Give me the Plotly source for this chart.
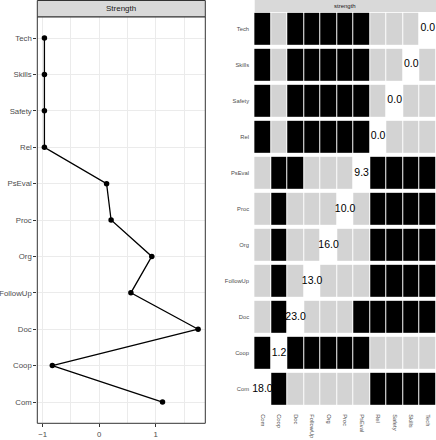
import plotly.graph_objects as go

# ---------------- data ----------------
nodes = ["Com", "Coop", "Doc", "FollowUp", "Org", "Proc", "PsEval", "Rel", "Safety", "Skills", "Tech"]
# left panel: standardized strength, order as drawn top->bottom
line_nodes = ["Tech", "Skills", "Safety", "Rel", "PsEval", "Proc", "Org", "FollowUp", "Doc", "Coop", "Com"]
line_values = [-0.97, -0.97, -0.97, -0.97, 0.13, 0.21, 0.93, 0.56, 1.75, -0.83, 1.12]

# right panel: raw strength on the diagonal
diag_values = [18.0, 1.2, 23.0, 13.0, 16.0, 10.0, 9.3, 0.0, 0.0, 0.0, 0.0]
# difference matrix: 1 = significant (black), 0 = not (grey), None = diagonal
sig = [
    [None, 1, 0, 0, 0, 0, 0, 1, 1, 1, 1],   # Com
    [1, None, 1, 1, 1, 1, 1, 0, 0, 0, 0],   # Coop
    [0, 1, None, 0, 0, 0, 1, 1, 1, 1, 1],   # Doc
    [0, 1, 0, None, 0, 0, 0, 1, 1, 1, 1],   # FollowUp
    [0, 1, 0, 0, None, 0, 0, 1, 1, 1, 1],   # Org
    [0, 1, 0, 0, 0, None, 0, 1, 1, 1, 1],   # Proc
    [0, 1, 1, 0, 0, 0, None, 1, 1, 1, 1],   # PsEval
    [1, 0, 1, 1, 1, 1, 1, None, 0, 0, 0],   # Rel
    [1, 0, 1, 1, 1, 1, 1, 0, None, 0, 0],   # Safety
    [1, 0, 1, 1, 1, 1, 1, 0, 0, None, 0],   # Skills
    [1, 0, 1, 1, 1, 1, 1, 0, 0, 0, None],   # Tech
]
x_ticks = [-1, 0, 1]

# ---------------- layout helpers ----------------
W, H = 436, 440
FONT = "Liberation Sans, Arial, Helvetica, sans-serif"

def px_x(p):
    return p / W

def px_y(p):
    return 1 - p / H

# left panel box (pixels)
L_x0, L_x1 = 37.3, 205.3
L_y0, L_y1 = 16.8, 423.3
# right panel box
R_x0, R_x1 = 254.2, 436.0
R_y0, R_y1 = 10.8, 407.0

fig = go.Figure()

fig.add_trace(go.Scatter(
    x=line_values, y=line_nodes, mode="lines+markers",
    line=dict(color="black", width=1.3),
    marker=dict(color="black", size=5.5),
    xaxis="x", yaxis="y", showlegend=False, hoverinfo="skip",
))

fig.add_trace(go.Heatmap(
    z=sig, x=nodes, y=nodes,
    colorscale=[[0, "#D3D3D3"], [1, "#000000"]], zmin=0, zmax=1,
    showscale=False, xgap=1, ygap=4,
    xaxis="x2", yaxis="y2", hoverinfo="skip",
))

fig.add_trace(go.Scatter(
    x=nodes, y=nodes, mode="text",
    text=[f"{v:.1f}" for v in diag_values],
    textfont=dict(family=FONT, size=10.5, color="black"),
    textposition="middle center",
    xaxis="x2", yaxis="y2", showlegend=False, hoverinfo="skip",
    cliponaxis=False,
))

grid_col = "#EBEBEB"
fig.update_layout(
    width=W, height=H,
    margin=dict(l=0, r=0, t=0, b=0, autoexpand=False),
    paper_bgcolor="white", plot_bgcolor="white",
    font=dict(family=FONT),
    xaxis=dict(
        domain=[px_x(L_x0), px_x(L_x1)], range=[-1.096, 1.877],
        tickvals=x_ticks, ticktext=["\u22121", "0", "1"],
        ticks="outside", ticklen=3, tickwidth=0.8, tickcolor="#333333",
        tickfont=dict(size=7.8, color="#4D4D4D"),
        showgrid=True, gridcolor=grid_col, gridwidth=0.9,
        minor=dict(tickvals=[-0.5, 0.5, 1.5], showgrid=True, gridcolor=grid_col, gridwidth=0.5),
        zeroline=False, showline=False, anchor="y", automargin=False,
    ),
    yaxis=dict(
        domain=[px_y(L_y1), px_y(L_y0)],
        type="category", categoryorder="array", categoryarray=nodes,
        range=[-0.585, 10.585],
        ticks="outside", ticklen=3, tickwidth=0.8, tickcolor="#333333",
        tickfont=dict(size=7.8, color="#4D4D4D"),
        showgrid=True, gridcolor=grid_col, gridwidth=0.9,
        zeroline=False, showline=False, anchor="x", automargin=False,
    ),
    xaxis2=dict(
        domain=[px_x(R_x0), px_x(R_x1)],
        type="category", categoryorder="array", categoryarray=nodes,
        range=[-0.5, 10.5],
        tickangle=90, ticks="outside", ticklen=5, tickcolor="rgba(0,0,0,0)",
        tickfont=dict(size=5.8, color="#4D4D4D"),
        showgrid=False, zeroline=False, showline=False, anchor="y2", automargin=False,
    ),
    yaxis2=dict(
        domain=[px_y(R_y1), px_y(R_y0)],
        type="category", categoryorder="array", categoryarray=nodes,
        range=[-0.5, 10.5],
        ticks="outside", ticklen=3, tickcolor="rgba(0,0,0,0)",
        tickfont=dict(size=5.8, color="#4D4D4D"),
        showgrid=False, zeroline=False, showline=False, anchor="x2", automargin=False,
    ),
    shapes=[
        # left panel border
        dict(type="rect", xref="paper", yref="paper",
             x0=px_x(L_x0), x1=px_x(L_x1), y0=px_y(L_y1), y1=px_y(L_y0),
             line=dict(color="#333333", width=1), fillcolor="rgba(0,0,0,0)", layer="above"),
        # left strip
        dict(type="rect", xref="paper", yref="paper",
             x0=px_x(L_x0), x1=px_x(L_x1), y0=px_y(L_y0), y1=px_y(0.5),
             line=dict(color="#333333", width=1), fillcolor="#D9D9D9", layer="above"),
        # right strip
        dict(type="rect", xref="paper", yref="paper",
             x0=px_x(R_x0 + 0.5), x1=1.0, y0=px_y(12), y1=1.0,
             line=dict(width=0), fillcolor="#D9D9D9", layer="above"),
    ],
    annotations=[
        dict(text="Strength", xref="paper", yref="paper",
             x=px_x((L_x0 + L_x1) / 2), y=px_y(8.6), showarrow=False,
             xanchor="center", yanchor="middle",
             font=dict(size=8, color="#1A1A1A", family=FONT)),
        dict(text="strength", xref="paper", yref="paper",
             x=px_x((R_x0 + R_x1) / 2), y=px_y(6), showarrow=False,
             xanchor="center", yanchor="middle",
             font=dict(size=6, color="#1A1A1A", family=FONT)),
    ],
)

fig.write_html(
    "out.html",
    config={"displayModeBar": False},
    post_script="document.body.style.margin='0';document.body.style.overflow='hidden';",
)
